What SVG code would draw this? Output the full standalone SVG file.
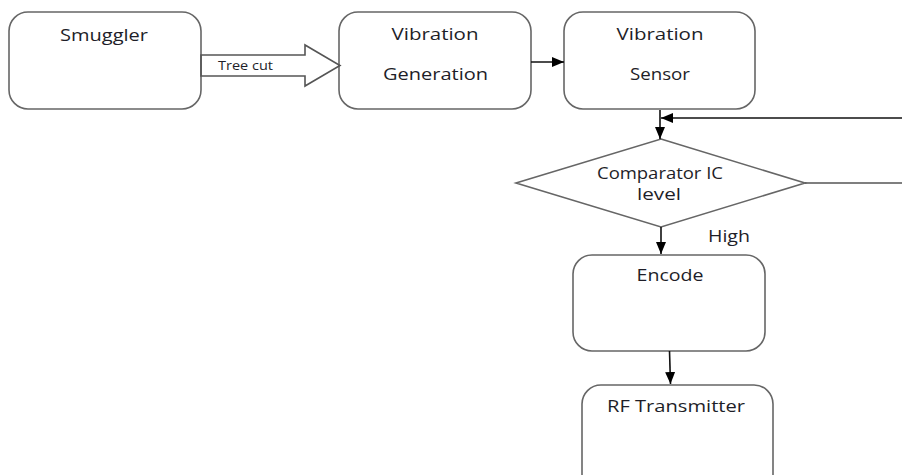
<svg xmlns="http://www.w3.org/2000/svg" width="902" height="475" viewBox="0 0 902 475">
<style>
.box{fill:#fff;stroke:#666;stroke-width:1.6}
.lbl{font-family:"Open Sans","Liberation Sans",sans-serif;font-size:16px;fill:#1e1e28;text-anchor:middle}
.small{font-size:12.5px;text-anchor:start}
.ln{fill:none;stroke:#111;stroke-width:1.6}
.gl{fill:none;stroke:#555;stroke-width:1.6}
</style>
<defs>
<marker id="ah" viewBox="0 0 12 10" refX="12" refY="5" markerWidth="12" markerHeight="10" markerUnits="userSpaceOnUse" orient="auto">
<path d="M0,0 L12,5 L0,10 Z" fill="#000"/>
</marker>
</defs>
<rect width="902" height="475" fill="#fff"/>
<g id="smuggler">
<rect class="box" x="9" y="12" width="192" height="97" rx="19"/>
<text class="lbl" x="104" y="41" font-size="17" textLength="88" lengthAdjust="spacingAndGlyphs">Smuggler</text>
</g>
<g id="vibration-generation">
<rect class="box" x="339" y="12" width="192" height="97" rx="19"/>
<text class="lbl" x="435" y="39.5" textLength="87" lengthAdjust="spacingAndGlyphs">Vibration</text>
<text class="lbl" x="435.5" y="80" textLength="105" lengthAdjust="spacingAndGlyphs">Generation</text>
</g>
<g id="vibration-sensor">
<rect class="box" x="564" y="12" width="191" height="97" rx="19"/>
<text class="lbl" x="660" y="39.5" textLength="87" lengthAdjust="spacingAndGlyphs">Vibration</text>
<text class="lbl" x="660" y="80" textLength="60" lengthAdjust="spacingAndGlyphs">Sensor</text>
</g>
<g id="comparator">
<polygon class="box" points="661,139 805,183 661,227 516,183"/>
<text class="lbl" x="660" y="179" textLength="126" lengthAdjust="spacingAndGlyphs">Comparator IC</text>
<text class="lbl" x="659" y="200" textLength="44" lengthAdjust="spacingAndGlyphs">level</text>
</g>
<g id="encode">
<rect class="box" x="573" y="255" width="192" height="96" rx="19"/>
<text class="lbl" x="670" y="281" textLength="67" lengthAdjust="spacingAndGlyphs">Encode</text>
</g>
<g id="rf-transmitter">
<rect class="box" x="582" y="385" width="191" height="120" rx="19"/>
<text class="lbl" x="676" y="412" textLength="138" lengthAdjust="spacingAndGlyphs">RF Transmitter</text>
</g>
<g id="connectors">
<g id="tree-cut">
<polygon class="gl" points="201,55 305,55 305,45 340,65.5 305,86 305,76 201,76" fill="#fff"/>
<text class="lbl small" x="218" y="70" textLength="55" lengthAdjust="spacingAndGlyphs">Tree cut</text>
</g>
<line class="ln" x1="531" y1="62" x2="564" y2="62" marker-end="url(#ah)"/>
<line class="ln" x1="660" y1="110" x2="660" y2="139" marker-end="url(#ah)"/>
<line class="ln" x1="902" y1="118" x2="661" y2="118" marker-end="url(#ah)"/>
<line class="gl" x1="805" y1="183" x2="902" y2="183"/>
<line class="ln" x1="661" y1="227" x2="661" y2="254" marker-end="url(#ah)"/>
<text class="lbl" x="729" y="242" textLength="42" lengthAdjust="spacingAndGlyphs">High</text>
<line class="ln" x1="669.5" y1="351" x2="670.5" y2="384" marker-end="url(#ah)"/>
</g>
</svg>
